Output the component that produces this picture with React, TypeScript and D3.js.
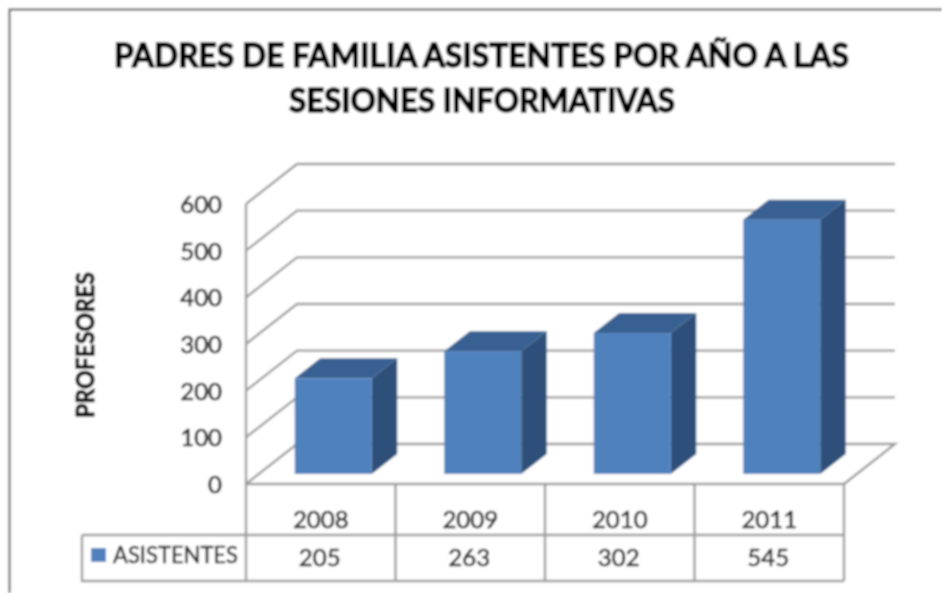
import React from "react";
import * as d3 from "d3";

const categories = ["2008", "2009", "2010", "2011"];
const seriesName = "ASISTENTES";
const values = [205, 263, 302, 545];
const yTicks = [0, 100, 200, 300, 400, 500, 600];
const titleLines = [
  { text: "PADRES DE FAMILIA ASISTENTES POR AÑO A LAS", x: 114, y: 67, w: 735 },
  { text: "SESIONES INFORMATIVAS", x: 289, y: 112, w: 386 },
];
const axisTitle = "PROFESORES";

const FONT = "Lato, 'Open Sans', sans-serif";
const W = 942, H = 593;
const left = 246, right = 844;
const floorY = 484, topY = 204;
const depthX = 51, depthY = -40;
const tableMid = 535, tableBottom = 581, tableLeft = 82;
const gridCol = "#9c9c9c";

const y = d3.scaleLinear().domain([0, 600]).range([floorY, topY]);
const x = d3.scaleBand().domain(categories).range([left, right]).paddingInner(0).paddingOuter(0);
const bw = 77;
const barDx = 12.5 - bw / 2;

export default function App() {
  const line = d3.line();
  return (
    <svg width={W} height={H} style={{ position: "absolute", left: 0, top: 0, background: "#fff" }}>
      <defs>
        <filter id="soft" x="0" y="0" width="100%" height="100%">
          <feGaussianBlur stdDeviation="0.8" />
        </filter>
      </defs>
      <g filter="url(#soft)">
        <rect width={W} height={H} fill="#fff" />
        <path d={line([[9.5, H], [9.5, 9.5], [W, 9.5]])!} fill="none" stroke="#7d7d7d" strokeWidth={2.5} />

        {titleLines.map((t) => (
          <text key={t.text} x={t.x} y={t.y} textLength={t.w} lengthAdjust="spacingAndGlyphs"
            fontFamily={FONT} fontWeight={700} fontSize={33} fill="#000" stroke="#000" strokeWidth={1.3}>{t.text}</text>
        ))}

        <text transform="translate(94,418) rotate(-90)" textLength={146} lengthAdjust="spacingAndGlyphs"
          fontFamily={FONT} fontWeight={700} fontSize={25} fill="#000" stroke="#000" strokeWidth={1}>{axisTitle}</text>

        {yTicks.map((v) => (
          <g key={v}>
            <path
              d={line(
                v === 0
                  ? [[left, y(v)], [left + depthX, y(v) + depthY], [right + depthX, y(v) + depthY], [right, y(v)]]
                  : [[left, y(v)], [left + depthX, y(v) + depthY], [right + depthX, y(v) + depthY]]
              )!}
              fill="none" stroke={gridCol} strokeWidth={2.4} />
            <text x={222} y={y(v) + 9} textAnchor="end" fontFamily={FONT} fontSize={24} fill="#222" stroke="#222" strokeWidth={0.6}>{v}</text>
          </g>
        ))}

        <path d={line([[left, y(600)], [left, tableBottom]])!} fill="none" stroke={gridCol} strokeWidth={2.4} />
        <path d={line([[left, floorY], [right, floorY]])!} fill="none" stroke={gridCol} strokeWidth={2.4} />
        <path d={line([[tableLeft, tableMid], [right, tableMid]])!} fill="none" stroke={gridCol} strokeWidth={2.4} />
        <path d={line([[tableLeft, tableMid], [tableLeft, tableBottom], [right, tableBottom]])!} fill="none" stroke={gridCol} strokeWidth={2.4} />
        {categories.map((c) => (
          <path key={c} d={line([[x(c)! + x.bandwidth(), floorY], [x(c)! + x.bandwidth(), tableBottom]])!} fill="none" stroke={gridCol} strokeWidth={2.4} />
        ))}

        {categories.map((c, i) => {
          const cx = x(c)! + x.bandwidth() / 2;
          const x0 = cx + barDx, x1 = x0 + bw;
          const base = y(0) + 0.5 * depthY * 0.5;
          const top = base - (y(0) - y(values[i]));
          const dx = 25.5, dy = -20;
          return (
            <g key={c}>
              <path d={line([[x1, top], [x1 + dx, top + dy], [x1 + dx, base + dy], [x1, base]])! + "Z"} fill="#2f5079" />
              <path d={line([[x0, top], [x0 + dx, top + dy], [x1 + dx, top + dy], [x1, top]])! + "Z"} fill="#386192" />
              <rect x={x0} y={top} width={bw} height={base - top} fill="#4f81bd" />
            </g>
          );
        })}

        {categories.map((c, i) => {
          const cx = x(c)! + x.bandwidth() / 2;
          return (
            <g key={c} fontFamily={FONT} fontSize={24} fill="#222" stroke="#222" strokeWidth={0.6} textAnchor="middle">
              <text x={cx} y={528}>{c}</text>
              <text x={cx - 1} y={566}>{values[i]}</text>
            </g>
          );
        })}

        <rect x={91} y={548} width={15} height={14} fill="#4f81bd" />
        <text x={113} y={563} textLength={125} lengthAdjust="spacingAndGlyphs"
          fontFamily={FONT} fontSize={23} fill="#222" stroke="#222" strokeWidth={0.5}>{seriesName}</text>
      </g>
    </svg>
  );
}
